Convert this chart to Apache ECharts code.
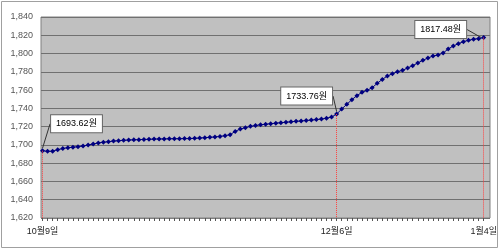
<!DOCTYPE html>
<html>
<head>
<meta charset="utf-8">
<script src="https://cdn.jsdelivr.net/npm/echarts@6/dist/echarts.min.js"></script>
<style>html,body{margin:0;padding:0;background:#fff}#c{width:500px;height:250px}</style>
</head>
<body>
<div id="c"></div>
<script>
// Daily values from Oct 9 to Jan 4 (88 days)
const startMonth = 10, startDay = 9;
const values = [
  1693.62, 1693.0, 1693.1, 1694.8, 1696.0, 1697.0, 1697.4, 1698.1, 1698.8, 1699.9,
  1701.0, 1702.1, 1703.0, 1703.5, 1704.2, 1704.6, 1705.0, 1705.3, 1705.6, 1705.7,
  1706.0, 1706.1, 1706.4, 1706.5, 1706.6, 1706.7, 1706.8, 1706.8, 1706.9, 1706.9,
  1707.2, 1707.5, 1707.9, 1708.3, 1708.7, 1709.3, 1710.1, 1711.2, 1714.8, 1717.4,
  1718.8, 1720.3, 1721.2, 1722.0, 1722.6, 1723.2, 1723.8, 1724.3, 1724.8, 1725.3,
  1725.8, 1726.2, 1726.7, 1727.2, 1727.7, 1728.3, 1729.2, 1730.5, 1733.76, 1739.3,
  1744.4, 1749.5, 1753.9, 1757.6, 1759.7, 1762.6, 1767.4, 1771.7, 1775.4, 1777.9,
  1780.1, 1781.6, 1784.2, 1786.7, 1789.7, 1792.6, 1795.1, 1797.3, 1798.4, 1800.6,
  1805.0, 1808.3, 1810.8, 1813.0, 1814.5, 1815.7, 1816.3, 1817.48
];
const monthDays = {10: 31, 11: 30, 12: 31, 1: 31};
const categories = [];
(function () {
  let m = startMonth, d = startDay;
  for (let i = 0; i < values.length; i++) {
    categories.push(m + '월' + d + '일');
    d++;
    if (d > monthDays[m]) { d = 1; m = m === 12 ? 1 : m + 1; }
  }
})();
const labeledIdx = [0, 58, 87];
const yMin = 1620, yMax = 1840, yStep = 20;
const labelOffsets = { 0: [34, -16], 58: [-30, -7], 87: [-43, 3] };

const chart = echarts.init(document.getElementById('c'), null, {renderer: 'canvas'});
const dataItems = values.map((v, i) => {
  if (labeledIdx.includes(i)) {
    return { value: v, label: { show: true, formatter: v.toFixed(2) + '원' } };
  }
  return v;
});

chart.setOption({
  animation: false,
  backgroundColor: '#fff',
  graphic: [{
    type: 'rect', shape: {x: 1.5, y: 1.5, width: 496, height: 246},
    style: {fill: 'none', stroke: '#a0a0a0', lineWidth: 1}, silent: true, z: 0
  }],
  grid: [
    { left: 41, right: 10, top: 17, bottom: 32,
      show: true, backgroundColor: '#C0C0C0', borderColor: '#808080', borderWidth: 1 },
    { left: 42.5, right: 12, top: 17, bottom: 32, show: false }
  ],
  xAxis: [
    { gridIndex: 0, type: 'value', min: 0, max: 1, show: false },
    {
      gridIndex: 1, type: 'category', data: categories, boundaryGap: false,
      axisLine: {lineStyle: {color: '#808080'}},
      axisTick: {show: true, interval: 0, length: 3, lineStyle: {color: '#555'}},
      axisLabel: {
        interval: (i) => labeledIdx.includes(i),
        color: '#222', fontSize: 9, fontFamily: 'Liberation Sans, Noto Sans CJK KR', margin: 9
      },
      splitLine: {show: false}
    }
  ],
  yAxis: [
    {
      gridIndex: 0, type: 'value', min: yMin, max: yMax, interval: yStep,
      axisLine: {show: false}, axisTick: {show: false},
      axisLabel: {
        color: '#555', fontSize: 9, fontFamily: 'Liberation Sans', margin: 8,
        formatter: (v) => String(v).replace(/\B(?=(\d{3})+(?!\d))/g, ',')
      },
      splitLine: {lineStyle: {color: '#707070', width: 1}}
    },
    { gridIndex: 1, type: 'value', min: yMin, max: yMax, interval: yStep, show: false,
      splitLine: {show: false} }
  ],
  series: [{
    type: 'line',
    xAxisIndex: 1, yAxisIndex: 1,
    data: dataItems,
    showSymbol: true, showAllSymbol: true,
    symbol: 'diamond', symbolSize: 5,
    itemStyle: {color: '#000080'},
    lineStyle: {color: '#000080', width: 1},
    clip: false,
    label: {
      position: 'top', distance: 0,
      color: '#000', fontSize: 9, fontFamily: 'Liberation Sans, Noto Sans CJK KR',
      backgroundColor: '#fff', borderColor: '#666', borderWidth: 1, padding: [4, 5]
    },
    labelLine: {show: true, lineStyle: {color: '#333', width: 1}},
    labelLayout: (p) => {
      const o = labelOffsets[p.dataIndex];
      return o ? {dx: o[0], dy: o[1]} : {};
    },
    markLine: {
      silent: true, symbol: 'none', label: {show: false}, z: 10,
      lineStyle: {color: '#ff4040', type: 'dotted', width: 1},
      data: labeledIdx.map(i => [
        {coord: [i, values[i]]},
        {coord: [i, yMin]}
      ])
    },
    z: 3
  }]
});
</script>
</body>
</html>
